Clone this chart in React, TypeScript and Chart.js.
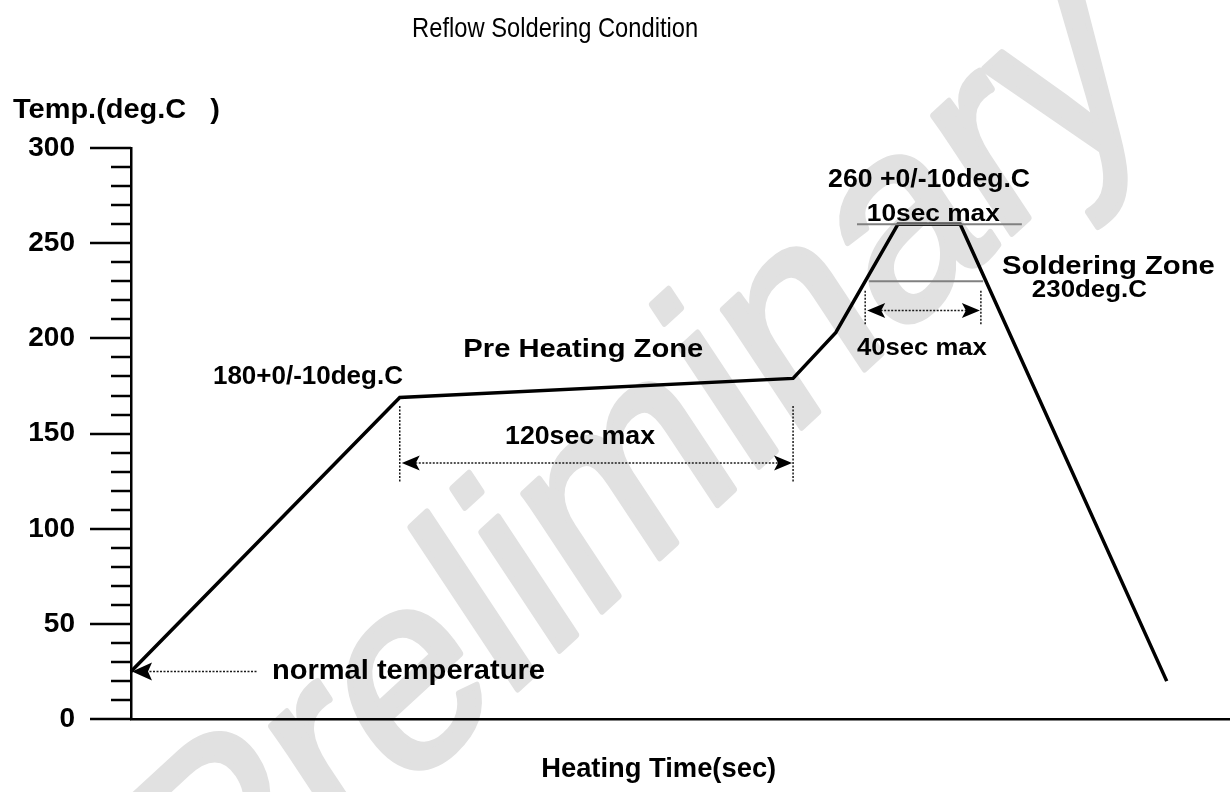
import React, { useEffect, useRef } from 'react';
import { Chart, registerables } from 'chart.js';

Chart.register(...registerables);

// ---- data ----
const timeSec = [0, 82, 202, 215, 234, 253, 316];
const tempC = [25, 169, 179, 203, 260, 260, 20];

const yMin = 0;
const yMax = 300;
const yMinorStep = 10;
const yLabelStep = 50;
const xMin = 0;
const xMax = 335;

// gray reference levels: [temp, fromSec, toSec]
const levelTemps = [260, 230];
const levelFrom = [221.5, 225.2];
const levelTo = [271.8, 260];

// dimension arrows: from/to (sec), arrow temp, tick top/bottom temps
const spanFrom = [82, 224];
const spanTo = [202, 259.3];
const spanTemp = [134.5, 214.7];
const spanTop = [164.5, 225];
const spanBottom = [124, 207];

// normal temperature arrow
const normalTemp = 25;
const normalTail = 38.4;

// text labels
const labelTexts = [
  'Reflow Soldering Condition',
  'Temp.(deg.C   )',
  'normal temperature',
  '180+0/-10deg.C',
  'Pre Heating Zone',
  '120sec max',
  '260 +0/-10deg.C',
  '10sec max',
  'Soldering Zone',
  '230deg.C',
  '40sec max',
  'Heating Time(sec)',
];
const labelSec = [129.4, -36, 43, 25, 138, 137, 243.5, 244.8, 298.2, 292.4, 241.3, 161];
const labelTemp = [358.4, 315.5, 21, 175.9, 190, 144.8, 279.3, 261.9, 233.8, 221.9, 191.2, -30.5];
const labelAlign = ['center', 'left', 'left', 'left', 'center', 'center', 'center', 'center', 'center', 'center', 'center', 'center'];
const labelSize = [28, 28, 28, 25.6, 26.5, 25, 25, 24.7, 25.6, 23, 24, 27];
const labelWidth = [286, 207, 273, 190, 240, 150, 202, 133, 213, 115, 130, 235];
const labelBold = [false, true, true, true, true, true, true, true, true, true, true, true];

const FONT = '"Liberation Sans", Arial, Helvetica, sans-serif';

function drawText(ctx: CanvasRenderingContext2D, text: string, x: number, y: number, size: number, width: number, bold: boolean, align: string) {
  ctx.save();
  ctx.font = `${bold ? 'bold ' : ''}${size}px ${FONT}`;
  const w = ctx.measureText(text).width;
  const sx = width / w;
  ctx.translate(x, y);
  ctx.scale(sx, 1);
  ctx.textAlign = align as CanvasTextAlign;
  ctx.textBaseline = 'alphabetic';
  ctx.fillStyle = '#000';
  ctx.fillText(text, 0, 0);
  ctx.restore();
}

function arrowHead(ctx: CanvasRenderingContext2D, tipX: number, y: number, dir: number, len: number, half: number) {
  ctx.beginPath();
  ctx.moveTo(tipX, y);
  ctx.lineTo(tipX + dir * len, y - half);
  ctx.lineTo(tipX + dir * (len - 4), y);
  ctx.lineTo(tipX + dir * len, y + half);
  ctx.closePath();
  ctx.fill();
}

const overlayPlugin = {
  id: 'overlay',
  beforeDraw(chart: any) {
    const ctx: CanvasRenderingContext2D = chart.ctx;
    ctx.save();
    ctx.fillStyle = '#ffffff';
    ctx.fillRect(0, 0, chart.width, chart.height);
    // watermark (rotated, then stretched vertically)
    const size = 240;
    ctx.translate(645, 478);
    ctx.scale(1, 1.18);
    ctx.rotate((-38 * Math.PI) / 180);
    ctx.font = `${size}px ${FONT}`;
    ctx.fillStyle = '#e1e1e1';
    ctx.strokeStyle = '#e1e1e1';
    ctx.lineWidth = 6;
    ctx.lineJoin = 'round';
    ctx.textAlign = 'center';
    ctx.textBaseline = 'alphabetic';
    ctx.fillText('Preliminary', 0, size * 0.26);
    ctx.strokeText('Preliminary', 0, size * 0.26);
    ctx.restore();
  },
  afterDraw(chart: any) {
    const ctx: CanvasRenderingContext2D = chart.ctx;
    const xs = chart.scales.x;
    const ys = chart.scales.y;
    const left = chart.chartArea.left;
    ctx.save();
    // y ticks
    ctx.strokeStyle = '#000';
    ctx.lineWidth = 2.5;
    for (let v = yMin; v <= yMax; v += yMinorStep) {
      const py = Math.round(ys.getPixelForValue(v));
      const len = v % yLabelStep === 0 ? 41 : 20;
      ctx.beginPath();
      ctx.moveTo(left - len, py);
      ctx.lineTo(left, py);
      ctx.stroke();
    }
    // gray level lines
    ctx.strokeStyle = '#808080';
    ctx.lineWidth = 2;
    levelTemps.forEach((t, i) => {
      const py = ys.getPixelForValue(t);
      ctx.beginPath();
      ctx.moveTo(xs.getPixelForValue(levelFrom[i]), py);
      ctx.lineTo(xs.getPixelForValue(levelTo[i]), py);
      ctx.stroke();
    });
    // span arrows
    ctx.strokeStyle = '#1a1a1a';
    ctx.fillStyle = '#000';
    spanFrom.forEach((f, i) => {
      const x1 = xs.getPixelForValue(f);
      const x2 = xs.getPixelForValue(spanTo[i]);
      const py = ys.getPixelForValue(spanTemp[i]);
      const top = ys.getPixelForValue(spanTop[i]);
      const bot = ys.getPixelForValue(spanBottom[i]);
      ctx.lineWidth = 1.5;
      ctx.setLineDash([2, 1.5]);
      ctx.beginPath();
      ctx.moveTo(x1, top);
      ctx.lineTo(x1, bot);
      ctx.moveTo(x2, top);
      ctx.lineTo(x2, bot);
      ctx.moveTo(x1 + 12, py);
      ctx.lineTo(x2 - 12, py);
      ctx.stroke();
      ctx.setLineDash([]);
      arrowHead(ctx, x1 + 2, py, 1, 18, 7.5);
      arrowHead(ctx, x2 - 1, py, -1, 18, 7.5);
    });
    // normal temperature arrow
    {
      const py = ys.getPixelForValue(normalTemp);
      const x1 = xs.getPixelForValue(xMin) + 1;
      const x2 = xs.getPixelForValue(normalTail);
      ctx.lineWidth = 1.5;
      ctx.setLineDash([2, 1.5]);
      ctx.beginPath();
      ctx.moveTo(x1 + 14, py);
      ctx.lineTo(x2, py);
      ctx.stroke();
      ctx.setLineDash([]);
      arrowHead(ctx, x1, py, 1, 20, 9);
    }
    // labels
    labelTexts.forEach((t, i) => {
      drawText(
        ctx,
        t,
        xs.getPixelForValue(labelSec[i]),
        ys.getPixelForValue(labelTemp[i]),
        labelSize[i],
        labelWidth[i],
        labelBold[i],
        labelAlign[i]
      );
    });
    ctx.restore();
  },
};

export default function App() {
  const ref = useRef<HTMLCanvasElement | null>(null);
  useEffect(() => {
    if (!ref.current) return;
    const chart = new Chart(ref.current, {
      type: 'line',
      data: {
        datasets: [
          {
            data: timeSec.map((t, i) => ({ x: t, y: tempC[i] })),
            borderColor: '#000',
            borderWidth: 3.5,
            pointRadius: 0,
            tension: 0,
            fill: false,
            borderJoinStyle: 'miter',
            clip: false,
          } as any,
        ],
      },
      options: {
        animation: false,
        responsive: false,
        layout: { padding: { top: 148, bottom: 64, left: 0, right: 1 } },
        plugins: { legend: { display: false }, title: { display: false }, tooltip: { enabled: false } },
        events: [],
        scales: {
          x: {
            type: 'linear',
            min: xMin,
            max: xMax,
            grid: { display: false, drawTicks: false },
            ticks: { display: false },
            border: { display: true, color: '#000', width: 2.5 },
            afterFit: (s: any) => {
              s.height = 0;
            },
          },
          y: {
            type: 'linear',
            min: yMin,
            max: yMax,
            grid: { display: false, drawTicks: false },
            border: { display: true, color: '#000', width: 2.5 },
            ticks: {
              stepSize: yMinorStep,
              autoSkip: false,
              padding: 56,
              color: '#000',
              font: { family: FONT, size: 28, weight: 'bold' },
              callback: (v: any) => (Number(v) % yLabelStep === 0 ? String(v) : ''),
            },
            afterFit: (s: any) => {
              s.width = 131;
            },
          },
        },
      } as any,
      plugins: [overlayPlugin],
    });
    return () => chart.destroy();
  }, []);
  return (
    <div style={{ position: 'fixed', left: 0, top: 0, width: 1230, height: 792, background: '#fff' }}>
      <canvas ref={ref} width={1230} height={792} />
    </div>
  );
}
